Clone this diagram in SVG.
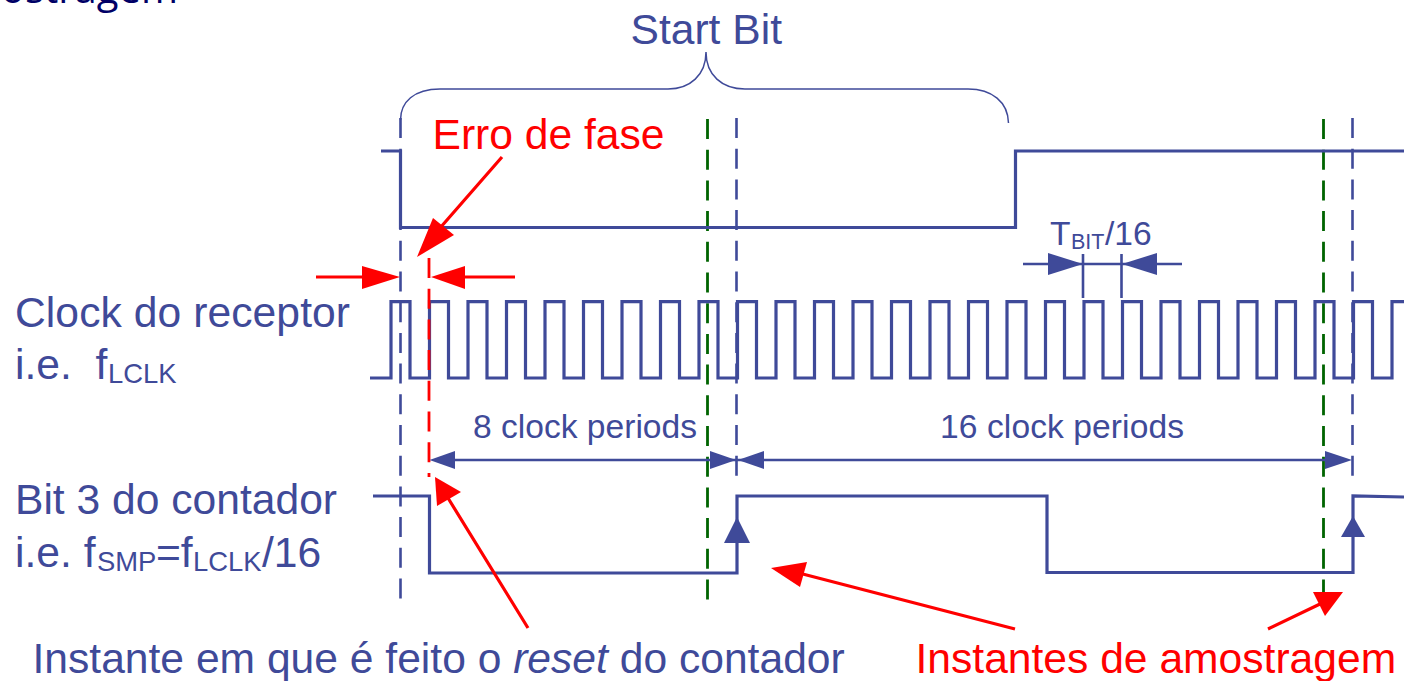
<svg xmlns="http://www.w3.org/2000/svg" width="1404" height="681" viewBox="0 0 1404 681">
<style>
text{font-family:"Liberation Sans",Arial,sans-serif;font-size:42.6px;fill:#3f4a99;white-space:pre}
.r{fill:#ff0000}
.s{font-size:33.6px}
.sub{font-size:27.4px}
.sub2{font-size:21.500px}
.sig{fill:none;stroke:#3f4a99;stroke-width:3.2;stroke-linejoin:miter}
.d{fill:none;stroke:#3f4a99;stroke-width:2.6;stroke-dasharray:20 10.7}
.g{fill:none;stroke:#006400;stroke-width:2.8;stroke-dasharray:20 10.7}
.dim{fill:none;stroke:#3f4a99;stroke-width:2.6}
.ra{fill:none;stroke:#ff0000;stroke-width:3.2}
.bh{fill:#3f4a99}
.rh{fill:#ff0000}
</style>
<rect width="1404" height="681" fill="#ffffff"/>
<text id="title-fragment" x="178" y="3" text-anchor="end" style="font-family:'Open Sans',sans-serif;fill:#000066;font-size:40px">ostragem</text>
<g id="connectors">
<path id="brace" d="M400.500 120C400.500 102 414 89 440 89L668 89C690 89 706 75 706 52C706 75 722 89 745 89L968 89C992 89 1008 102 1008.500 123" fill="none" stroke="#3f4a99" stroke-width="1.500"/>
<path class="d" d="M400.500 118V600"/>
<path class="d" d="M736.500 118V476"/>
<path class="d" d="M1352.500 118V476"/>
<path class="g" d="M707.500 119V600"/>
<path class="g" d="M1323.500 119V600"/>
<path id="data-line" class="sig" d="M381 151H400.500V227.500H1015.500V151H1404"/>
<path id="clock-line" class="sig" d="M370 378H391V301.700H410V378H429.500V301.700H448.500V378H468V301.700H487V378H506.500V301.700H525.500V378H545V301.700H564V378H583.500V301.700H602.500V378H622V301.700H641V378H660.500V301.700H679.500V378H699V301.700H718V378H737.500V301.700H756.500V378H776V301.700H795V378H814.500V301.700H833.500V378H853V301.700H872V378H891.500V301.700H910.500V378H930V301.700H949V378H968.500V301.700H987.500V378H1007V301.700H1026V378H1045.500V301.700H1064.500V378H1084V301.700H1103V378H1122.500V301.700H1141.500V378H1161V301.700H1180V378H1199.500V301.700H1218.500V378H1238V301.700H1257V378H1276.500V301.700H1295.500V378H1315V301.700H1334V378H1353.500V301.700H1372.500V378H1392V301.700H1404"/>
<path id="counter-line" class="sig" d="M373 496H429.500V573H737V496H1047V572.500H1353V496L1404 497"/>
<path stroke="#ff0000" stroke-width="2.800" stroke-dasharray="20 10.7" fill="none" d="M429 258V477"/>
<path class="dim" d="M440 460H1340"/>
<path class="bh" d="M429.500 460L455 451V469Z"/>
<path class="bh" d="M736 460L710 451V469Z"/>
<path class="bh" d="M738 460L764 451V469Z"/>
<path class="bh" d="M1352 460L1325 451V469Z"/>
<path class="bh" d="M737 517L750 543H724Z"/>
<path class="bh" d="M1353 516L1365 537H1341Z"/>
<path class="dim" d="M1023 264H1182M1083 254V298M1121.500 254V298"/>
<path class="bh" d="M1083 264L1048 253V275Z"/>
<path class="bh" d="M1122 264L1157 253V275Z"/>
<path class="ra" d="M316 277H370M515 277H465M502 157L440 228M528 628L448 498M1015 629L795 572M1268 629L1320 604"/>
<path class="rh" d="M400 277L362 266V289Z"/>
<path class="rh" d="M431 277L465 266V289Z"/>
<path class="rh" d="M417 257L433 218L454 235Z"/>
<path class="rh" d="M435 477L461 492L437 506Z"/>
<path class="rh" d="M771 568L807 562L800 587Z"/>
<path class="rh" d="M1313 592H1343L1325 616Z"/>
</g>
<g id="label-start-bit"><text x="630.500" y="44">Start Bit</text></g>
<g id="label-erro"><text class="r" x="432.500" y="149">Erro de fase</text></g>
<g id="label-clock"><text x="15" y="327" textLength="335">Clock do receptor</text><text x="15" y="379">i.e.  f<tspan class="sub" dy="4" x="108">LCLK</tspan></text></g>
<g id="label-bit3"><text x="15" y="514">Bit 3 do contador</text><text x="15" y="567">i.e. f<tspan class="sub" dy="4" x="97">SMP</tspan><tspan dy="-4" x="156">=f</tspan><tspan class="sub" dy="4" x="193">LCLK</tspan><tspan dy="-4" x="262">/16</tspan></text></g>
<g id="label-tbit"><text class="s" x="1050" y="245">T<tspan class="sub2" dy="4" x="1071">BIT</tspan><tspan dy="-4" x="1105">/16</tspan></text></g>
<g id="label-8"><text class="s" x="473" y="438" textLength="224">8 clock periods</text></g>
<g id="label-16"><text class="s" x="940" y="438" textLength="244">16 clock periods</text></g>
<g id="label-reset"><text x="32.500" y="673">Instante em que é feito o <tspan font-style="italic">reset</tspan> do contador</text></g>
<g id="label-amostragem"><text class="r" x="915.500" y="673">Instantes de amostragem</text></g>
</svg>
